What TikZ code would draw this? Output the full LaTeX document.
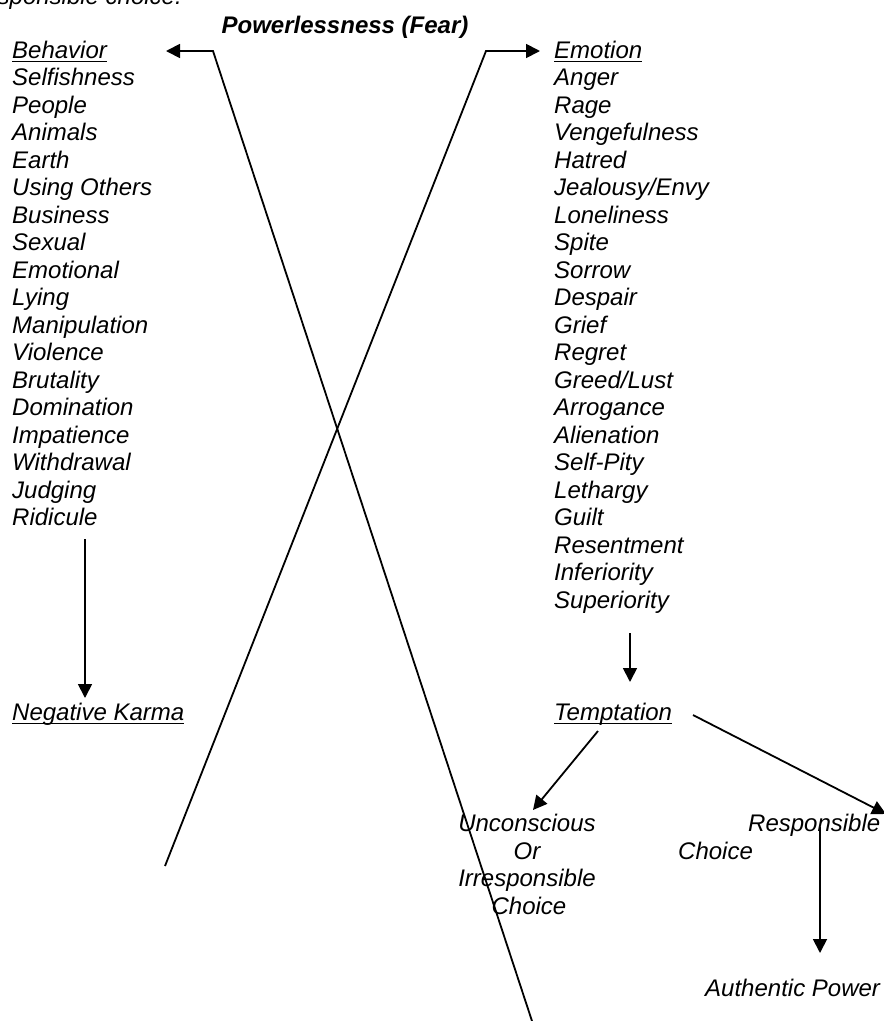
\documentclass[tikz,border=0pt]{standalone}
\usepackage{fontspec}
\setmainfont{Liberation Sans}
\usetikzlibrary{arrows.meta,calc}
\tikzset{
  txt/.style={font=\fontsize{24}{27.5}\selectfont\itshape, inner sep=0pt, anchor=base west},
  ctxt/.style={txt, anchor=base},
  ttl/.style={font=\fontsize{24}{27.5}\selectfont\bfseries\itshape, inner sep=0pt, anchor=base},
  ln/.style={line width=1.8pt},
  arr/.style={line width=1.8pt, -{Triangle[length=14pt,width=14pt]}},
  ul/.style={line width=1.8pt}
}
\begin{document}
\begin{tikzpicture}[x=1pt,y=-1pt]
\clip (0,0) rectangle (884,1021);
\useasboundingbox (0,0) rectangle (884,1021);
% cut-off text at the top
\node[txt, anchor=base east] (cut) at (182,4) {responsible choice.};
% title
\node[ttl] (title) at (345,33.5) {Powerlessness (Fear)};
% left column
\node[txt] (beh) at (12,58) {Behavior};
\foreach \t [count=\i] in {Selfishness,People,Animals,Earth,Using Others,Business,Sexual,Emotional,Lying,Manipulation,Violence,Brutality,Domination,Impatience,Withdrawal,Judging,Ridicule}
  \node[txt] (b\i) at (12,{58+27.5*\i}) {\t};
% right column
\node[txt] (emo) at (554,58) {Emotion};
\foreach \t [count=\i] in {Anger,Rage,Vengefulness,Hatred,Jealousy/Envy,Loneliness,Spite,Sorrow,Despair,Grief,Regret,Greed/Lust,Arrogance,Alienation,Self-Pity,Lethargy,Guilt,Resentment,Inferiority,Superiority}
  \node[txt] (e\i) at (554,{58+27.5*\i}) {\t};
% lower nodes
\node[txt] (karma) at (12,720) {Negative Karma};
\node[txt] (tempt) at (554,720) {Temptation};
\node[ctxt] (u1) at (527,831) {Unconscious};
\node[ctxt] (u2) at (527,859) {Or};
\node[ctxt] (u3) at (527,886) {Irresponsible};
\node[ctxt] (u4) at (529,914) {Choice};
\node[txt] (resp) at (748,831) {Responsible};
\node[txt] (rchoice) at (678,859) {Choice};
\node[txt] (ap) at (705,996) {Authentic Power};
% underlines
\foreach \n in {beh,emo,karma,tempt}
  \draw[ul] ([yshift=-3.5pt]\n.base west) -- ([yshift=-3.5pt]\n.base east);
% crossing connectors
\coordinate (xb) at (532,1021);
\coordinate (xa) at (165,866);
\draw[arr, line join=miter] (xb) -- ($(beh.base west)+(201,-7)$) -- ($(beh.base west)+(154,-7)$);
\draw[arr, line join=miter] (xa) -- ($(emo.base west)+(-68,-7)$) -- ($(emo.base west)+(-14,-7)$);
% arrows
\draw[arr] ($(b17.base west)+(73,13.5)$) -- ($(karma.base west)+(73,-22)$);
\draw[arr] ($(e20.base west)+(76,25)$) -- ($(tempt.base west)+(76,-38)$);
\draw[arr] ($(tempt.base west)+(44,11)$) -- ($(u1.base)+(6,-21)$);
\draw[arr] ($(tempt.base west)+(139,-5)$) -- ($(resp.base west)+(138,-17)$);
\draw[arr] ($(resp.base west)+(72,-4)$) -- ($(ap.base west)+(115,-43)$);
\end{tikzpicture}
\end{document}
